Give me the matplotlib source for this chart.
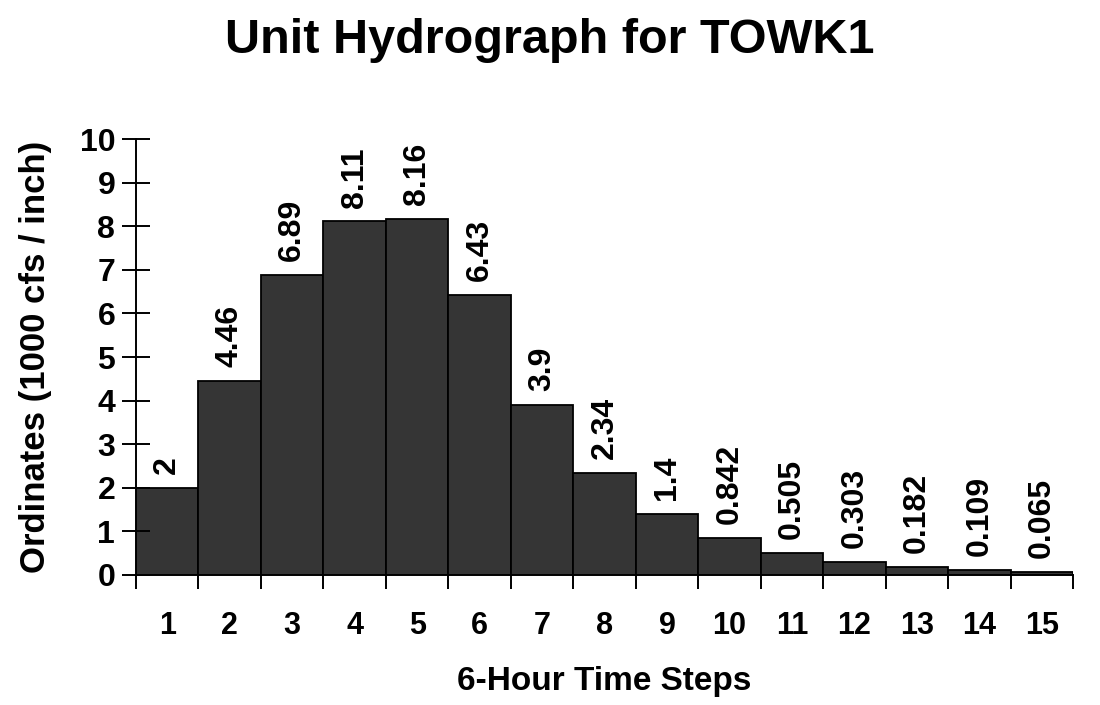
import matplotlib
matplotlib.use("Agg")
import matplotlib.pyplot as plt
import numpy as np

plt.rcParams['font.family'] = ['Liberation Sans', 'DejaVu Sans']

steps = list(range(1, 16))
ordinates = [2, 4.46, 6.89, 8.11, 8.16, 6.43, 3.9, 2.34, 1.4, 0.842, 0.505, 0.303, 0.182, 0.109, 0.065]
value_labels = ["2", "4.46", "6.89", "8.11", "8.16", "6.43", "3.9", "2.34", "1.4", "0.842",
                "0.505", "0.303", "0.182", "0.109", "0.065"]
yticks = list(range(0, 11))

fig = plt.figure(figsize=(11, 7.05), dpi=100)
ax = fig.add_axes([0.1236, 0.1844, 0.852, 0.6184])

ax.bar(steps, ordinates, width=1.0, color='#353535', edgecolor='black', linewidth=1.3)

for x, v, lab in zip(steps, ordinates, value_labels):
    ax.annotate(lab, (x, v), xytext=(0, 10), textcoords='offset points',
                rotation=90, ha='center', va='bottom', fontsize=23, fontweight='bold')

ax.set_xlim(0.5, 15.5)
ax.set_ylim(0, 10)
ax.set_yticks(yticks)
ax.set_yticklabels([str(t) for t in yticks], fontsize=23, fontweight='bold')
ax.set_xticks(steps)
ax.set_xticklabels([str(s) for s in steps], fontsize=22, fontweight='bold')
ax.set_xticks(np.arange(0.5, 16, 1.0), minor=True)
ax.tick_params(axis='x', which='major', length=0, pad=26)
ax.tick_params(axis='x', which='minor', length=10, width=1.4, direction='out')
ax.tick_params(axis='y', which='major', length=20, width=1.4, direction='inout', pad=5)

for s in ['top', 'right']:
    ax.spines[s].set_visible(False)
for s in ['left', 'bottom']:
    ax.spines[s].set_linewidth(1.4)

ax.set_xlabel('6-Hour Time Steps', fontsize=24, fontweight='bold', labelpad=18)
ax.set_ylabel('Ordinates (1000 cfs / inch)', fontsize=25, fontweight='bold', labelpad=20)
fig.suptitle('Unit Hydrograph for TOWK1', fontsize=35, fontweight='bold', y=0.975)

fig.savefig('out.png', dpi=100)
